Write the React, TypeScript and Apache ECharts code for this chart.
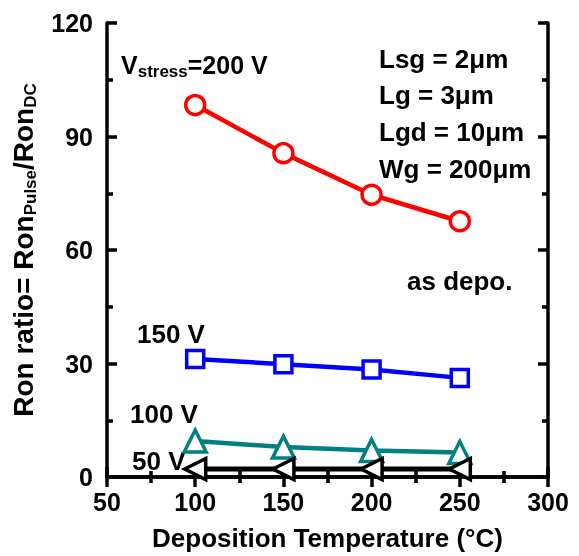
import React, { useEffect, useRef } from "react";
import * as echarts from "echarts";

const temps = [100, 150, 200, 250];
const v200 = [98.3, 85.6, 74.6, 67.6];
const v150 = [31.2, 29.8, 28.4, 26.2];
const v100 = [9.5, 7.9, 7.0, 6.5];
const v50 = [2.1, 2.1, 2.1, 2.1];
const xTicks = [50, 100, 150, 200, 250, 300];
const yTicks = [0, 30, 60, 90, 120];
const params = ["Lsg = 2\u03bcm", "Lg = 3\u03bcm", "Lgd = 10\u03bcm", "Wg = 200\u03bcm"];
const seriesLabels = ["150 V", "100 V", "50 V"];

const FONT = "Liberation Sans, Arial, sans-serif";

export default function App() {
  const ref = useRef<HTMLDivElement>(null);
  useEffect(() => {
    if (!ref.current) return;
    const chart = echarts.init(ref.current, null, { renderer: "svg" });
    const pts = (ys: number[]) => temps.map((t, i) => [t, ys[i]]);
    const axisCommon = {
      axisLine: { show: true, lineStyle: { color: "#000", width: 3.5 } },
      axisTick: { show: true, inside: true, length: 10, lineStyle: { color: "#000", width: 3.5 } },
      minorTick: { show: true, splitNumber: 2, length: 6, lineStyle: { color: "#000", width: 3.5 } },
      splitLine: { show: false },
    };
    const mkSeries = (name: string, ys: number[], color: string, symbol: string, size: number, rot = 0, lw = 4.5) => ({
      name,
      type: "line",
      data: pts(ys),
      symbol,
      symbolSize: size,
      symbolRotate: rot,
      showAllSymbol: true,
      lineStyle: { color, width: lw },
      itemStyle: { color: "#fff", borderColor: color, borderWidth: 3.5 },
      z: 5,
    });
    const labelPos = [
      [137, 320.5],
      [130, 400.5],
      [132, 447.5],
    ];
    chart.setOption({
      animation: false,
      textStyle: { fontFamily: FONT },
      grid: { left: 107, right: 31, top: 23, bottom: 79 },
      xAxis: [
        {
          type: "value",
          min: 50,
          max: 300,
          interval: 50,
          position: "bottom",
          ...axisCommon,
          axisLabel: {
            color: "#000",
            fontSize: 25,
            fontWeight: "bold",
            fontFamily: FONT,
            margin: 12,
            formatter: (v: number) => (xTicks.includes(v) ? String(v) : ""),
          },
          name: "Deposition Temperature (\u00b0C)",
          nameLocation: "middle",
          nameGap: 48,
          nameTextStyle: { color: "#000", fontSize: 26, fontWeight: "bold", fontFamily: FONT },
        },
        {
          type: "value",
          min: 50,
          max: 300,
          interval: 50,
          position: "top",
          ...axisCommon,
          axisLabel: { show: false },
        },
      ],
      yAxis: [
        {
          type: "value",
          min: 0,
          max: 120,
          interval: 30,
          position: "left",
          ...axisCommon,
          axisLabel: {
            color: "#000",
            fontSize: 25,
            fontWeight: "bold",
            fontFamily: FONT,
            margin: 14,
            formatter: (v: number) => (yTicks.includes(v) ? String(v) : ""),
          },
          name: "Ron ratio= Ron{sub|Pulse}/Ron{sub|DC}",
          nameLocation: "middle",
          nameGap: 68,
          nameRotate: 90,
          nameTextStyle: {
            color: "#000",
            fontSize: 28,
            fontWeight: "bold",
            fontFamily: FONT,
            rich: {
              sub: { fontSize: 17, fontWeight: "bold", fontFamily: FONT, color: "#000", verticalAlign: "bottom", padding: [14, 0, 0, 0] },
            },
          },
        },
        {
          type: "value",
          min: 0,
          max: 120,
          interval: 30,
          position: "right",
          ...axisCommon,
          axisLabel: { show: false },
        },
      ],
      series: [
        mkSeries("200 V", v200, "#ff0000", "circle", 19),
        mkSeries("150 V", v150, "#0000ff", "rect", 17),
        mkSeries("100 V", v100, "#008080", "triangle", 22),
        mkSeries("50 V", v50, "#000000", "triangle", 21, 90, 5),
      ],
      graphic: [
        {
          type: "text",
          left: 121,
          top: 52.5,
          style: {
            text: "V{sub|stress}=200 V",
            font: `bold 25px ${FONT}`,
            fill: "#000",
            rich: { sub: { fontSize: 17, fontWeight: "bold", fontFamily: FONT, fill: "#000", padding: [12, 0, 0, 0] } },
          },
        },
        ...params.map((p, i) => ({
          type: "text",
          left: 379,
          top: 45.5 + i * 36.8,
          style: { text: p, font: `bold 26px ${FONT}`, fill: "#000" },
        })),
        { type: "text", left: 407, top: 267.5, style: { text: "as depo.", font: `bold 26px ${FONT}`, fill: "#000" } },
        ...seriesLabels.map((s, i) => ({
          type: "text",
          left: labelPos[i][0],
          top: labelPos[i][1],
          style: { text: s, font: `bold 26px ${FONT}`, fill: "#000" },
        })),
      ],
    });
    return () => chart.dispose();
  }, []);
  return <div ref={ref} style={{ position: "fixed", left: 0, top: 0, width: 579, height: 556 }} />;
}
